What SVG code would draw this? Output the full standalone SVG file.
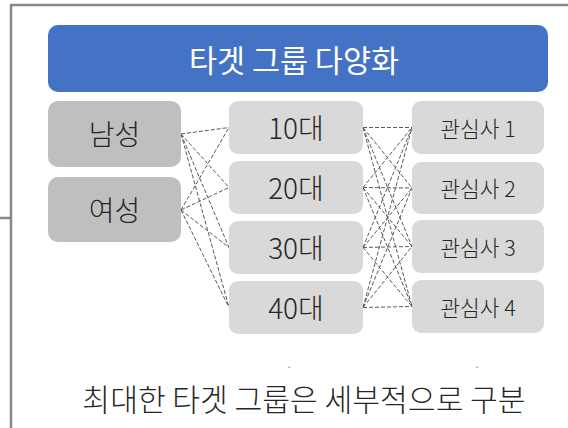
<svg xmlns="http://www.w3.org/2000/svg" width="568" height="428" viewBox="0 0 568 428">
<style>
.t{font-family:"Noto Sans CJK KR","Noto Sans",sans-serif;font-weight:300;text-anchor:middle;dominant-baseline:central;fill:#262626}
.lt{fill:#BFBFBF}
.md{fill:#D9D9D9}
.c line{stroke:#595959;stroke-width:1;stroke-dasharray:4 2;fill:none}
</style>
<rect width="568" height="428" fill="#ffffff"/>
<g id="frame" fill="none" stroke="#888888" stroke-width="2.5">
<path d="M11 428 V5 H568"/>
<path d="M0 218 H11"/>
</g>
<g id="title">
<rect x="48" y="25" width="500" height="67" rx="10" fill="#4472C4"/>
<text class="t" x="294" y="58.5" font-size="30.5" style="fill:#ffffff;font-weight:400">타겟 그룹 다양화</text>
</g>
<g class="c" id="connectors">
<line x1="181" y1="134" x2="229" y2="127.5"/>
<line x1="181" y1="134" x2="229" y2="187.5"/>
<line x1="181" y1="134" x2="229" y2="247.5"/>
<line x1="181" y1="134" x2="229" y2="307.5"/>
<line x1="181" y1="210" x2="229" y2="127.5"/>
<line x1="181" y1="210" x2="229" y2="187.5"/>
<line x1="181" y1="210" x2="229" y2="247.5"/>
<line x1="181" y1="210" x2="229" y2="307.5"/>
<line x1="363" y1="127.5" x2="412" y2="127.5"/>
<line x1="363" y1="127.5" x2="412" y2="188"/>
<line x1="363" y1="127.5" x2="412" y2="246.5"/>
<line x1="363" y1="127.5" x2="412" y2="306.5"/>
<line x1="363" y1="187.5" x2="412" y2="127.5"/>
<line x1="363" y1="187.5" x2="412" y2="188"/>
<line x1="363" y1="187.5" x2="412" y2="246.5"/>
<line x1="363" y1="187.5" x2="412" y2="306.5"/>
<line x1="363" y1="247.5" x2="412" y2="127.5"/>
<line x1="363" y1="247.5" x2="412" y2="188"/>
<line x1="363" y1="247.5" x2="412" y2="246.5"/>
<line x1="363" y1="247.5" x2="412" y2="306.5"/>
<line x1="363" y1="307.5" x2="412" y2="127.5"/>
<line x1="363" y1="307.5" x2="412" y2="188"/>
<line x1="363" y1="307.5" x2="412" y2="246.5"/>
<line x1="363" y1="307.5" x2="412" y2="306.5"/>
</g>
<g id="male"><rect class="lt" x="48" y="101" width="133" height="66" rx="10"/><text class="t" x="114.5" y="133" font-size="28">남성</text></g>
<g id="female"><rect class="lt" x="48" y="177" width="133" height="65" rx="10"/><text class="t" x="114.5" y="209" font-size="28">여성</text></g>
<g id="age10"><rect class="md" x="229" y="101" width="134" height="53" rx="9"/><text class="t" x="296" y="127" font-size="28">10대</text></g>
<g id="age20"><rect class="md" x="229" y="161" width="134" height="53" rx="9"/><text class="t" x="296" y="187" font-size="28">20대</text></g>
<g id="age30"><rect class="md" x="229" y="221" width="134" height="53" rx="9"/><text class="t" x="296" y="247" font-size="28">30대</text></g>
<g id="age40"><rect class="md" x="229" y="281" width="134" height="53" rx="9"/><text class="t" x="296" y="307" font-size="28">40대</text></g>
<g id="int1"><rect class="md" x="412" y="101" width="132" height="53" rx="9"/><text class="t" x="478" y="127" font-size="21.5">관심사 1</text></g>
<g id="int2"><rect class="md" x="412" y="162" width="132" height="52" rx="9"/><text class="t" x="478" y="187.5" font-size="21.5">관심사 2</text></g>
<g id="int3"><rect class="md" x="412" y="220" width="132" height="53" rx="9"/><text class="t" x="478" y="246" font-size="21.5">관심사 3</text></g>
<g id="int4"><rect class="md" x="412" y="280" width="132" height="53" rx="9"/><text class="t" x="478" y="306" font-size="21.5">관심사 4</text></g>
<g id="dots" fill="#999999"><rect x="288.5" y="366.5" width="1.5" height="1.5"/><rect x="476.5" y="366.5" width="1.5" height="1.5"/></g>
<g id="caption"><text class="t" x="304" y="398" font-size="30.2">최대한 타겟 그룹은 세부적으로 구분</text></g>
</svg>
